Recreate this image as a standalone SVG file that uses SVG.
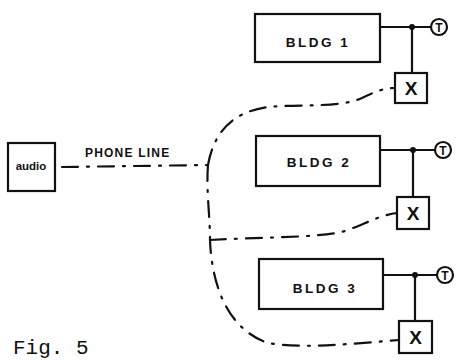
<svg xmlns="http://www.w3.org/2000/svg" width="457" height="360" viewBox="0 0 457 360">
  <style>
    .box { fill: none; stroke: #111; stroke-width: 2.2; }
    .wire { fill: none; stroke: #111; stroke-width: 2.2; }
    .phone { fill: none; stroke: #111; stroke-width: 2.2; stroke-dasharray: 16 9 2 9; stroke-linecap: round; }
    .lbl { font-family: "Liberation Sans", Arial, sans-serif; font-weight: bold; fill: #111; }
    .bldg { font-size: 13.5px; letter-spacing: 2.5px; text-anchor: middle; }
    .mark { font-size: 19px; text-anchor: middle; }
    .t { font-size: 12px; text-anchor: middle; }
    .dot { fill: #111; }
  </style>
  <rect width="457" height="360" fill="#fff"/>

  <!-- phone line connectors -->
  <g id="connectors">
    <path class="phone" d="M62,167 L208,165"/>
    <path class="phone" d="M208,165 C214,132 232,112 268,107 C300,104 340,108 362,98 C376,91 385,88 395,88"/>
    <path class="phone" d="M208,165 C206,190 210,215 210,240 C212,290 230,330 268,343 C300,349 350,344 399,340"/>
    <path class="phone" d="M210,240 C260,237 320,238 345,231 C365,224 380,215 397,213"/>
  </g>

  <g id="audio">
    <rect class="box" x="8" y="143" width="47" height="48"/>
    <text class="lbl" x="31" y="170" font-size="11.5" text-anchor="middle">audio</text>
  </g>

  <g id="phone-line-label">
    <text class="lbl" x="85" y="157" font-size="12" letter-spacing="1.2">PHONE LINE</text>
  </g>

  <g id="bldg1">
    <rect class="box" x="255" y="14" width="125" height="48"/>
    <text class="lbl bldg" x="318" y="47">BLDG 1</text>
    <path class="wire" d="M380,27 H431 M412,27 V73"/>
    <circle class="dot" cx="412" cy="27" r="3"/>
    <circle class="box" cx="439" cy="27" r="8"/>
    <text class="lbl t" x="439" y="31.5">T</text>
    <rect class="box" x="395" y="73" width="32" height="30"/>
    <text class="lbl mark" x="411" y="95">X</text>
  </g>

  <g id="bldg2">
    <rect class="box" x="256" y="136" width="124" height="50"/>
    <text class="lbl bldg" x="319" y="167">BLDG 2</text>
    <path class="wire" d="M380,150 H435 M413,150 V197"/>
    <circle class="dot" cx="413" cy="150" r="3"/>
    <circle class="box" cx="443" cy="150" r="8"/>
    <text class="lbl t" x="443" y="154.5">T</text>
    <rect class="box" x="397" y="197" width="32" height="32"/>
    <text class="lbl mark" x="413" y="220">X</text>
  </g>

  <g id="bldg3">
    <rect class="box" x="259" y="259" width="124" height="50"/>
    <text class="lbl bldg" x="325" y="293">BLDG 3</text>
    <path class="wire" d="M383,275 H437 M415,275 V321"/>
    <circle class="dot" cx="415" cy="275" r="3"/>
    <circle class="box" cx="445" cy="275" r="8"/>
    <text class="lbl t" x="445" y="279.5">T</text>
    <rect class="box" x="399" y="321" width="33" height="32"/>
    <text class="lbl mark" x="415.5" y="344">X</text>
  </g>

  <g id="caption">
    <text x="13" y="354" font-family="Liberation Mono, 'Courier New', monospace" font-size="21" fill="#111">Fig. 5</text>
  </g>
</svg>
